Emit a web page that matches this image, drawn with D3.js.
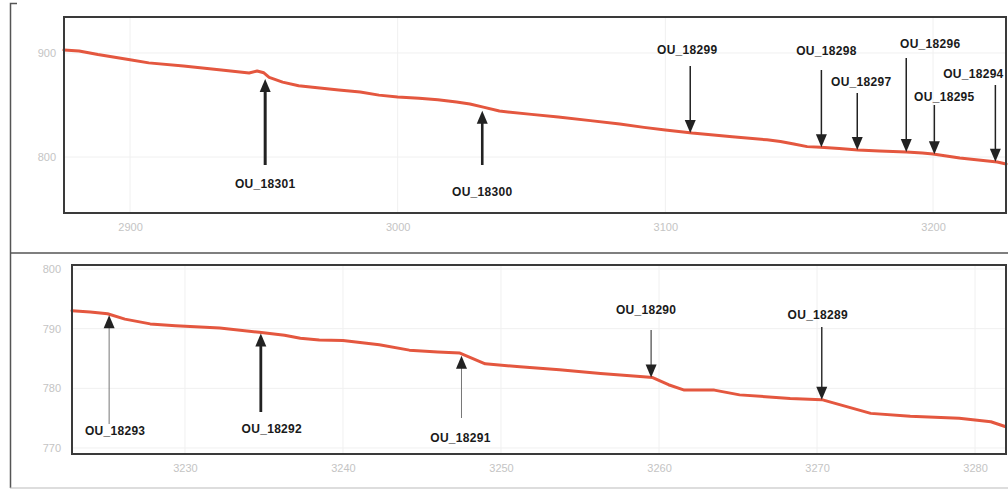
<!DOCTYPE html>
<html><head><meta charset="utf-8">
<script src="https://cdn.jsdelivr.net/npm/d3@7"></script>
<style>
html,body{margin:0;padding:0;background:#fff;}
svg{display:block;}
</style></head>
<body>
<svg id="chart" width="1008" height="489"></svg>
<script>
// ---------- DATA ----------
// Top panel: station (chainage) and elevation
const topStation = [2875.3,2881,2888,2900,2907,2920,2935,2944.5,2947.5,2950,2952,2957,2963,2970,2978,2986,2993,3000,3008,3015,3022,3027,3032,3038,3050,3060,3072,3083,3092,3100,3110,3125,3138,3143,3148,3153,3158,3165,3172,3180,3190,3196,3200,3205,3210,3217,3224,3227.3];
const topElev    = [902.9,902,898.5,893.5,890.5,887.5,883.5,880.8,882.7,881,876.5,872,868.5,866.5,864.4,862.5,859.5,857.7,856.5,855,852.8,851,848,844.2,841,838.5,835,831.7,828.5,826,823,819.5,816.5,815,812.5,810,809.5,808.2,806.7,805.8,804.8,803.8,802.9,801,799,797.2,795.2,793.3];
const topXTicks = [2900,3000,3100,3200];
const topYTicks = [800,900];

// Bottom panel
const botStation = [3222.85,3224,3225.1,3226.2,3227.8,3229.4,3232.2,3234.7,3236.3,3237.3,3238.5,3240,3242.3,3244.2,3246,3247.4,3249,3251.2,3253.7,3256.3,3258.8,3259.6,3260.6,3261.6,3263.5,3265.1,3268.3,3270.3,3273.4,3275.9,3279,3281,3281.9];
const botElev    = [793,792.8,792.5,791.6,790.8,790.5,790.1,789.4,788.9,788.4,788.1,788,787.3,786.4,786.1,785.9,784.1,783.6,783.1,782.5,782,781.8,780.6,779.7,779.7,778.9,778.3,778.1,775.8,775.3,775,774.4,773.6];
const botXTicks = [3230,3240,3250,3260,3270,3280];
const botYTicks = [770,780,790,800];

// Annotations (label + station)
const topLabels   = ["OU_18301","OU_18300","OU_18299","OU_18298","OU_18297","OU_18296","OU_18295","OU_18294"];
const topStations = [2950.5,3031.6,3109.3,3158.3,3171.7,3190.0,3200.5,3223.3];
const botLabels   = ["OU_18293","OU_18292","OU_18291","OU_18290","OU_18289"];
const botStations = [3225.2,3234.8,3247.5,3259.5,3270.3];

// ---------- LAYOUT (pixels / styles) ----------
// dir, tailY, labelY, labelDx, shaft width, gap between tip and line
const topAnnLayout = [
  {dir:"up",   tail:165, ly:184, dx:0,   w:3,   gap:5},
  {dir:"up",   tail:165, ly:192, dx:0,   w:2.6, gap:4},
  {dir:"down", tail:66,  ly:50,  dx:-3,  w:1.5, gap:0},
  {dir:"down", tail:70,  ly:51,  dx:5,   w:1.5, gap:0},
  {dir:"down", tail:93,  ly:82,  dx:4,   w:1.5, gap:0},
  {dir:"down", tail:58,  ly:44,  dx:24,  w:1.5, gap:0},
  {dir:"down", tail:105, ly:97,  dx:10,  w:1.5, gap:0},
  {dir:"down", tail:85,  ly:74,  dx:-22, w:1.5, gap:0}
];
const botAnnLayout = [
  {dir:"up",   tail:424, ly:431, dx:6,   w:1,   gap:1, c:"#777"},
  {dir:"up",   tail:412, ly:429, dx:11,  w:2.8, gap:1, c:"#222"},
  {dir:"up",   tail:418, ly:438, dx:-1,  w:1,   gap:2, c:"#777"},
  {dir:"down", tail:330, ly:310, dx:-5,  w:1.2, gap:0, c:"#444"},
  {dir:"down", tail:327, ly:315, dx:-4,  w:1.5, gap:0, c:"#333"}
];

const svg = d3.select("#chart");
const lineColor = "#e4573f";

// outer frame
const frame = svg.append("g").attr("stroke","#555").attr("stroke-width",1.5).attr("fill","none");
frame.append("path").attr("d","M17,3.5H10.5V488");
frame.append("line").attr("x1",10).attr("x2",1008).attr("y1",253).attr("y2",253);
frame.append("line").attr("x1",10).attr("x2",1008).attr("y1",488).attr("y2",488).attr("stroke","#bbb").attr("stroke-width",1);

function interp(xs, ys, x){
  const i = d3.bisectLeft(xs, x);
  if(i<=0) return ys[0];
  if(i>=xs.length) return ys[ys.length-1];
  const t = (x-xs[i-1])/(xs[i]-xs[i-1]);
  return ys[i-1] + t*(ys[i]-ys[i-1]);
}

function panel(opt){
  const {left,top,right,bottom,xDomain,yDomain,xs,ys,xTicks,yTicks,labels,stations,layout,yLabelX} = opt;
  const x = d3.scaleLinear().domain(xDomain).range([left,right]);
  const y = d3.scaleLinear().domain(yDomain).range([bottom,top]);
  const g = svg.append("g");

  // faint grid
  g.append("g").selectAll("line.vx").data(xTicks).join("line")
    .attr("x1",d=>x(d)).attr("x2",d=>x(d)).attr("y1",top).attr("y2",bottom)
    .attr("stroke","#f0f0f0").attr("stroke-width",1);
  g.append("g").selectAll("line.hy").data(yTicks).join("line")
    .attr("x1",left).attr("x2",right).attr("y1",d=>y(d)).attr("y2",d=>y(d))
    .attr("stroke","#f0f0f0").attr("stroke-width",1);

  // axes labels using d3 axes (no ticks / domain)
  const xa = g.append("g").attr("transform",`translate(0,${bottom})`)
    .call(d3.axisBottom(x).tickValues(xTicks).tickSize(0).tickPadding(10).tickFormat(d3.format("d")));
  const ya = g.append("g").attr("transform",`translate(${yLabelX},0)`)
    .call(d3.axisLeft(y).tickValues(yTicks).tickSize(0).tickPadding(0).tickFormat(d3.format("d")));
  [xa,ya].forEach(a=>{
    a.select(".domain").remove();
    a.selectAll("text").attr("fill","#c4c4c4").attr("font-family","Liberation Sans, Arial, sans-serif").attr("font-size",11);
  });

  // line
  g.append("path").datum(xs.map((d,i)=>[d,ys[i]]))
    .attr("fill","none").attr("stroke",lineColor).attr("stroke-width",3)
    .attr("stroke-linejoin","round").attr("stroke-linecap","round")
    .attr("d",d3.line().x(d=>x(d[0])).y(d=>y(d[1])));

  // plot frame
  g.append("rect").attr("x",left).attr("y",top).attr("width",right-left).attr("height",bottom-top)
    .attr("fill","none").attr("stroke","#3a3a3a").attr("stroke-width",2);

  // annotations
  const ann = g.append("g");
  labels.forEach((lab,i)=>{
    const L = layout[i];
    const px = x(stations[i]);
    const ly = y(interp(xs,ys,stations[i]));
    const col = L.c || "#222";
    const headL = 13, headW = 11;
    let tipY;
    if(L.dir==="up"){
      tipY = ly + L.gap;
      ann.append("line").attr("x1",px).attr("x2",px).attr("y1",tipY+headL-1).attr("y2",L.tail)
        .attr("stroke",col).attr("stroke-width",L.w);
      ann.append("path").attr("d",`M${px},${tipY}L${px-headW/2},${tipY+headL}L${px+headW/2},${tipY+headL}Z`).attr("fill","#222");
    } else {
      tipY = ly - L.gap;
      ann.append("line").attr("x1",px).attr("x2",px).attr("y1",L.tail).attr("y2",tipY-headL+1)
        .attr("stroke",col).attr("stroke-width",L.w);
      ann.append("path").attr("d",`M${px},${tipY}L${px-headW/2},${tipY-headL}L${px+headW/2},${tipY-headL}Z`).attr("fill","#222");
    }
    ann.append("text").attr("x",px+L.dx).attr("y",L.ly).attr("dy","0.35em")
      .attr("text-anchor","middle").attr("font-family","Liberation Sans, Arial, sans-serif")
      .attr("font-size",12).attr("font-weight","bold").attr("letter-spacing","0.3px")
      .attr("fill","#1a1a1a").text(lab);
  });
}

panel({left:64, top:17, right:1006, bottom:213,
  xDomain:[2875.34,3227.27], yDomain:[746.2,934.6],
  xs:topStation, ys:topElev, xTicks:topXTicks, yTicks:topYTicks,
  labels:topLabels, stations:topStations, layout:topAnnLayout, yLabelX:56});

panel({left:72, top:265, right:1006, bottom:454,
  xDomain:[3222.85,3281.96], yDomain:[768.99,800.67],
  xs:botStation, ys:botElev, xTicks:botXTicks, yTicks:botYTicks,
  labels:botLabels, stations:botStations, layout:botAnnLayout, yLabelX:61});
</script>
</body></html>
